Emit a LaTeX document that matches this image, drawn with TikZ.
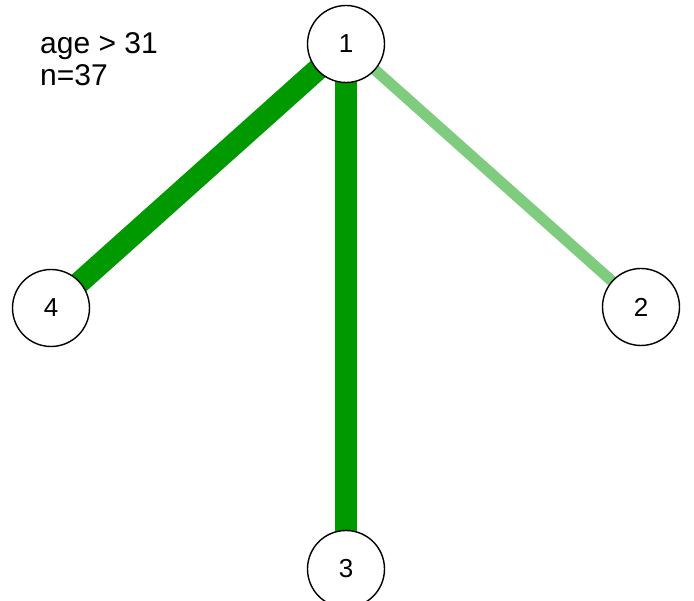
\documentclass[tikz,border=0pt]{standalone}
\usepackage{fontspec}
\setmainfont{Liberation Sans}
\usetikzlibrary{backgrounds}
\definecolor{darkgreen}{RGB}{0,153,0}
\definecolor{palegreen}{RGB}{127,204,127}

\begin{document}
\begin{tikzpicture}[x=1pt,y=-1pt,
  vertex/.style={circle,draw,line width=1.4pt,fill=white,minimum size=77pt,
    inner sep=0pt,font=\fontsize{26}{30}\selectfont},
  strong/.style={darkgreen,line width=22pt},
  weak/.style={palegreen,line width=11pt},
  caption/.style={anchor=base west,inner sep=0pt,
    font=\fontsize{30}{34}\selectfont}]
  \useasboundingbox (0,0) rectangle (694,601);
  % vertices
  \node[vertex] (v1) at (346,44) {1};
  \node[vertex] (v2) at (641,307) {2};
  \node[vertex] (v3) at (346,569) {3};
  \node[vertex] (v4) at (51,308) {4};
  % edges
  \begin{scope}[on background layer]
   \draw[strong] (v1.center) -- (v4.center);
   \draw[strong] (v1.center) -- (v3.center);
   \draw[weak] (v1.center) -- (v2.center);
  \end{scope}
  % split info
  \node[caption] (split) at (40,54) {age > 31};
  \node[caption] (count) at (40,86) {n=37};
\end{tikzpicture}
\end{document}
